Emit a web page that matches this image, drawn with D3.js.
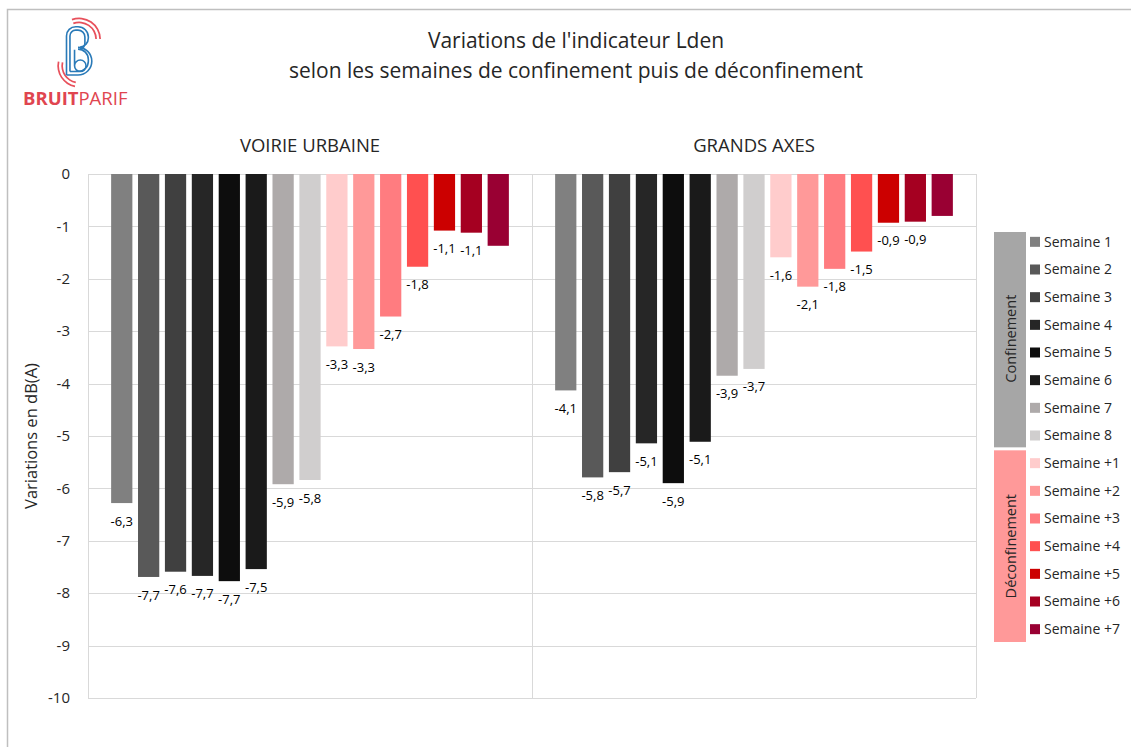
<!DOCTYPE html>
<html>
<head>
<meta charset="utf-8">
<script src="https://cdn.jsdelivr.net/npm/d3@7"></script>
<style>
  body { margin: 0; background: #fff; }
  svg { display: block; font-family: "Open Sans", sans-serif; }
</style>
</head>
<body>
<div id="root"></div>
<script>
// ###### data ######
const categories = ['VOIRIE URBAINE', 'GRANDS AXES'];
const weeks = ['Semaine 1', 'Semaine 2', 'Semaine 3', 'Semaine 4', 'Semaine 5', 'Semaine 6', 'Semaine 7', 'Semaine 8',
  'Semaine +1', 'Semaine +2', 'Semaine +3', 'Semaine +4', 'Semaine +5', 'Semaine +6', 'Semaine +7'];
const weekColors = ['#808080', '#595959', '#404040', '#262626', '#0d0d0d', '#1a1a1a', '#aeaaaa', '#d0cece',
  '#ffcccc', '#ff9999', '#ff7c80', '#ff5050', '#cc0000', '#a50021', '#990033'];
const voirieValues = [-6.28, -7.69, -7.59, -7.67, -7.77, -7.54, -5.92, -5.84, -3.29, -3.34, -2.72, -1.77, -1.08, -1.12, -1.37];
const voirieLabels = ['-6,3', '-7,7', '-7,6', '-7,7', '-7,7', '-7,5', '-5,9', '-5,8', '-3,3', '-3,3', '-2,7', '-1,8', '-1,1', '-1,1', ''];
const axesValues = [-4.13, -5.79, -5.69, -5.14, -5.9, -5.11, -3.85, -3.72, -1.59, -2.15, -1.81, -1.48, -0.93, -0.91, -0.8];
const axesLabels = ['-4,1', '-5,8', '-5,7', '-5,1', '-5,9', '-5,1', '-3,9', '-3,7', '-1,6', '-2,1', '-1,8', '-1,5', '-0,9', '-0,9', ''];
const yTicks = [0, -1, -2, -3, -4, -5, -6, -7, -8, -9, -10];
const phaseNames = ['Confinement', 'Déconfinement'];
const phaseColors = ['#a6a6a6', '#ff9999'];
const phaseSizes = [8, 7];

const titleLines = ["Variations de l'indicateur Lden", 'selon les semaines de confinement puis de déconfinement'];
const yTitle = 'Variations en dB(A)';

// ###### layout ######
const width = 1131, height = 747;
const plot = { left: 88, right: 976, top: 174, bottom: 698 };

const svg = d3.select('#root').append('svg')
  .attr('width', width)
  .attr('height', height)
  .attr('viewBox', [0, 0, width, height]);

// outer chart border (only left and top are visible)
svg.append('path')
  .attr('d', `M7.5,${height} V9.5 H${width}`)
  .attr('fill', 'none')
  .attr('stroke', '#bfbfbf')
  .attr('stroke-width', 1.5);

// scales
const x0 = d3.scaleBand().domain(categories).range([plot.left, plot.right]);
const x1 = d3.scaleBand().domain(weeks).range([0, x0.bandwidth()])
  .paddingInner(0.21).paddingOuter(0.86);
const y = d3.scaleLinear().domain([-10, 0]).range([plot.bottom, plot.top]);
const color = d3.scaleOrdinal().domain(weeks).range(weekColors);

// gridlines
svg.append('g')
  .selectAll('line')
  .data(yTicks)
  .join('line')
  .attr('x1', plot.left).attr('x2', plot.right)
  .attr('y1', (d) => Math.round(y(d)) + 0.5).attr('y2', (d) => Math.round(y(d)) + 0.5)
  .attr('stroke', '#d9d9d9');

// vertical separators (plot edges + between categories)
svg.append('g')
  .selectAll('line')
  .data([plot.left, x0(categories[1]), plot.right])
  .join('line')
  .attr('x1', (d) => Math.round(d) + 0.5).attr('x2', (d) => Math.round(d) + 0.5)
  .attr('y1', plot.top).attr('y2', plot.bottom)
  .attr('stroke', '#d9d9d9');

// y tick labels
svg.append('g')
  .selectAll('text')
  .data(yTicks)
  .join('text')
  .attr('x', 70)
  .attr('y', (d) => y(d))
  .attr('dy', '0.35em')
  .attr('text-anchor', 'end')
  .attr('font-size', 15)
  .attr('fill', '#262626')
  .text((d) => d === 0 ? '0' : String(d));

// y axis title
svg.append('text')
  .attr('transform', `translate(31, ${(plot.top + plot.bottom) / 2}) rotate(-90)`)
  .attr('text-anchor', 'middle')
  .attr('dy', '0.35em')
  .attr('font-size', 16.5)
  .attr('fill', '#262626')
  .text(yTitle);

// chart title
svg.append('g')
  .selectAll('text')
  .data(titleLines)
  .join('text')
  .attr('x', 576)
  .attr('y', (d, i) => 48 + i * 30)
  .attr('text-anchor', 'middle')
  .attr('font-size', 21)
  .attr('fill', '#262626')
  .text((d) => d);

// category titles
svg.append('g')
  .selectAll('text')
  .data(categories)
  .join('text')
  .attr('x', (d) => x0(d) + x0.bandwidth() / 2)
  .attr('y', 152)
  .attr('text-anchor', 'middle')
  .attr('font-size', 18.5)
  .attr('fill', '#262626')
  .text((d) => d);

// bars grouped by category
const series = [
  { cat: categories[0], values: voirieValues, labels: voirieLabels },
  { cat: categories[1], values: axesValues, labels: axesLabels }
];

const groups = svg.append('g')
  .selectAll('g')
  .data(series)
  .join('g')
  .attr('transform', (d) => `translate(${x0(d.cat)}, 0)`);

groups.selectAll('rect')
  .data((d) => d.values.map((v, i) => ({ week: weeks[i], value: v })))
  .join('rect')
  .attr('x', (d) => x1(d.week))
  .attr('width', x1.bandwidth())
  .attr('y', y(0))
  .attr('height', (d) => y(d.value) - y(0))
  .attr('fill', (d) => color(d.week));

groups.selectAll('text')
  .data((d) => d.values.map((v, i) => ({ week: weeks[i], value: v, label: d.labels[i] })).filter((d) => d.label))
  .join('text')
  .attr('x', (d) => x1(d.week) + x1.bandwidth() / 2)
  .attr('y', (d) => y(d.value) + 18)
  .attr('dy', '0.35em')
  .attr('text-anchor', 'middle')
  .attr('font-size', 13)
  .attr('fill', '#000')
  .text((d) => d.label);

// legend
const ly = d3.scaleBand().domain(weeks).range([228, 643]);
const legend = svg.append('g');

let start = 0;
const phaseData = phaseNames.map((name, i) => {
  const p = { name, color: phaseColors[i], first: weeks[start], last: weeks[start + phaseSizes[i] - 1] };
  start += phaseSizes[i];
  return p;
});

legend.selectAll('rect.phase')
  .data(phaseData)
  .join('rect')
  .attr('class', 'phase')
  .attr('x', 994)
  .attr('width', 32)
  .attr('y', (d, i) => ly(d.first) + (i === 0 ? 4 : 1))
  .attr('height', (d, i) => ly(d.last) + ly.bandwidth() - ly(d.first) - (i === 0 ? 6 : 2))
  .attr('fill', (d) => d.color);

legend.selectAll('text.phase')
  .data(phaseData)
  .join('text')
  .attr('class', 'phase')
  .attr('transform', (d) => `translate(1011, ${(ly(d.first) + ly(d.last) + ly.bandwidth()) / 2}) rotate(-90)`)
  .attr('text-anchor', 'middle')
  .attr('dy', '0.35em')
  .attr('font-size', 14.5)
  .attr('fill', '#262626')
  .text((d) => d.name);

const items = legend.selectAll('g.item')
  .data(weeks)
  .join('g')
  .attr('class', 'item')
  .attr('transform', (d) => `translate(1030, ${ly(d) + ly.bandwidth() / 2})`);

items.append('rect')
  .attr('x', 0).attr('y', -5)
  .attr('width', 10).attr('height', 10)
  .attr('fill', (d) => color(d));

items.append('text')
  .attr('x', 14)
  .attr('dy', '0.35em')
  .attr('font-size', 14)
  .attr('fill', '#262626')
  .text((d) => d);

// Bruitparif logo (simplified)
const logo = svg.append('g').attr('transform', 'translate(78, 52) scale(1.15)');
const blue = '#2a7ab8', red = '#e8505b';
const arc = d3.arc();
[14, 17.5].forEach((r) => {
  logo.append('path')
    .attr('transform', 'translate(1, -11)')
    .attr('d', arc({ innerRadius: r, outerRadius: r + 1.5, startAngle: -0.35, endAngle: 1.55 }))
    .attr('fill', red);
  logo.append('path')
    .attr('transform', 'translate(1, 12)')
    .attr('d', arc({ innerRadius: r, outerRadius: r + 1.5, startAngle: Math.PI + 0.2, endAngle: Math.PI * 1.5 + 0.2 }))
    .attr('fill', red);
});
const bPath = (o) => {
  const p = d3.path();
  p.moveTo(-10 + o, 20 - o);
  p.lineTo(-10 + o, -14 + o);
  p.arcTo(-10 + o, -22 + o, 0, -22 + o, 8 - o);
  p.arcTo(9 - o, -22 + o, 9 - o, -13, 9 - o);
  p.arcTo(9 - o, -5 + o * 0.5, 0, -4 + o * 0.5, 8 - o);
  p.moveTo(0, -4 + o * 0.5);
  p.arcTo(12 - o, -4 + o * 0.5, 12 - o, 8, 12 - o);
  p.arcTo(12 - o, 20 - o, 0, 20 - o, 12 - o);
  p.lineTo(-10 + o, 20 - o);
  return p.toString();
};
[0, 3].forEach((o) => {
  logo.append('path')
    .attr('d', bPath(o))
    .attr('fill', 'none')
    .attr('stroke', blue)
    .attr('stroke-width', 1.4);
});
logo.append('path')
  .attr('d', 'M-3,-2 V12 A5,5 0 0 0 7,12 A5,5 0 0 0 -3,12')
  .attr('fill', 'none')
  .attr('stroke', blue)
  .attr('stroke-width', 1.4);

const brand = svg.append('text')
  .attr('x', 23)
  .attr('y', 105)
  .attr('font-size', 18.5)
  .attr('fill', '#e0454f');
brand.append('tspan').attr('font-weight', 'bold').text('BRUIT');
brand.append('tspan').text('PARIF');
</script>
</body>
</html>
